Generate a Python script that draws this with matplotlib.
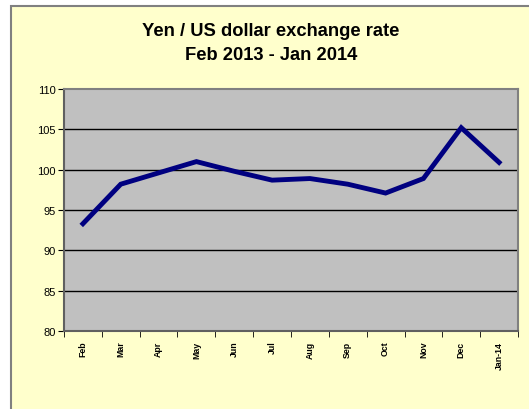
import numpy as np
import matplotlib.pyplot as plt
from matplotlib.patches import Rectangle

months = ['Feb', 'Mar', 'Apr', 'May', 'Jun', 'Jul', 'Aug', 'Sep', 'Oct', 'Nov', 'Dec', 'Jan-14']
rate = [93.3, 98.2, 99.6, 101.0, 99.8, 98.7, 98.9, 98.2, 97.1, 98.9, 105.2, 100.9]

plt.rcParams['font.family'] = ['Liberation Sans', 'DejaVu Sans']

W, H = 529, 410
fig = plt.figure(figsize=(W / 100, H / 100), dpi=100)
fig.patch.set_facecolor('white')

# yellow chart area with grey border
bg = Rectangle((11 / W, -0.01), 1.0, (H - 7) / H + 0.01, transform=fig.transFigure,
               facecolor='#FFFFCC', edgecolor='#808080', linewidth=1.5, zorder=-10)
fig.add_artist(bg)

ax = fig.add_axes([64 / W, (H - 332) / H, (518 - 64) / W, (332 - 90) / H])
ax.set_facecolor('#C0C0C0')

x = np.arange(len(months))
ax.plot(x, rate, color='#000080', linewidth=3.5, solid_joinstyle='miter', zorder=3)

ax.set_xlim(-0.5, len(months) - 0.5)
ax.set_ylim(80, 110)
ax.set_yticks(np.arange(80, 111, 5))
ax.set_yticklabels([str(v) for v in range(80, 111, 5)], fontsize=8)
for v in range(85, 110, 5):
    ax.axhline(v, color='black', linewidth=1, zorder=1)

ax.set_xticks(x)
ax.set_xticklabels(months, rotation=90, fontsize=6.3, fontweight='bold')
ax.set_xticks(np.arange(-0.5, len(months), 1), minor=True)
ax.tick_params(axis='x', which='major', length=0, pad=7)
ax.tick_params(axis='x', which='minor', length=4, direction='out', color='black')
ax.tick_params(axis='y', length=4, direction='out', color='black', pad=2)

for s in ['top', 'right']:
    ax.spines[s].set_color('#808080')
    ax.spines[s].set_linewidth(1.5)
ax.spines['left'].set_color('#606060')
ax.spines['left'].set_linewidth(1.5)
ax.spines['bottom'].set_color('#606060')
ax.spines['bottom'].set_linewidth(1.5)

fig.text(271 / W, 1 - 31 / H, 'Yen / US dollar exchange rate', ha='center', va='center',
         fontsize=13.2, fontweight='bold')
fig.text(271 / W, 1 - 56 / H, 'Feb 2013 - Jan 2014', ha='center', va='center',
         fontsize=13.2, fontweight='bold')

fig.savefig('out.png', dpi=100)
